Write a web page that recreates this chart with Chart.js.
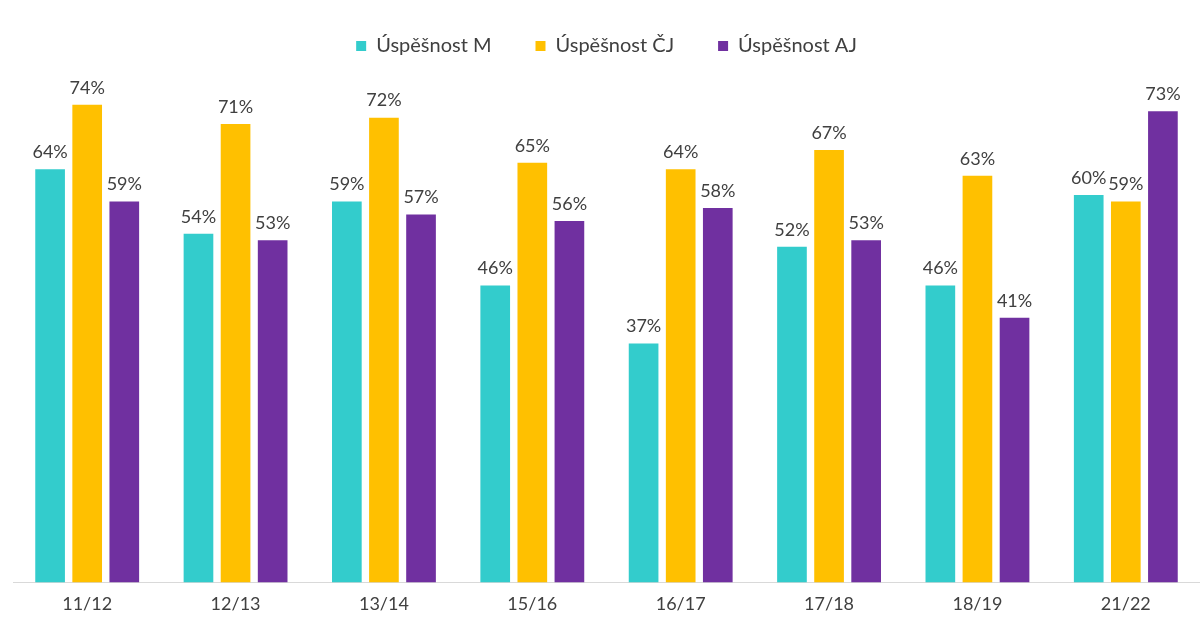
<!DOCTYPE html>
<html><head><meta charset="utf-8">
<script src="https://cdn.jsdelivr.net/npm/chart.js@4/dist/chart.umd.min.js"></script>
<style>html,body{margin:0;padding:0;background:#fff}#wrap{width:1200px;height:621px}</style>
</head><body><div id="wrap"><canvas id="c"></canvas></div>
<script>
const categories = ['11/12','12/13','13/14','15/16','16/17','17/18','18/19','21/22'];
const seriesM = [64,54,59,46,37,52,46,60];
const seriesCJ = [74,71,72,65,64,67,63,59];
const seriesAJ = [59,53,57,56,58,53,41,73];
const seriesNames = ['Úspěšnost M','Úspěšnost ČJ','Úspěšnost AJ'];
const colors = ['#33CCCC','#FFC000','#7030A0'];
const FONT = 'Lato, "Open Sans", sans-serif';

const labelPlugin = {
  id:'valueLabels',
  afterDatasetsDraw(chart){
    const ctx = chart.ctx;
    ctx.save();
    ctx.font = '18px ' + FONT;
    ctx.fillStyle = '#404040';
    ctx.textAlign = 'center';
    ctx.textBaseline = 'bottom';
    chart.data.datasets.forEach((ds,i)=>{
      const meta = chart.getDatasetMeta(i);
      meta.data.forEach((el,j)=>{
        ctx.fillText(ds.data[j]+'%', el.x, el.y - 8);
      });
    });
    ctx.restore();
  }
};

new Chart(document.getElementById('c'),{
  type:'bar',
  data:{
    labels: categories,
    datasets:[
      {label:seriesNames[0], data:seriesM, backgroundColor:colors[0]},
      {label:seriesNames[1], data:seriesCJ, backgroundColor:colors[1]},
      {label:seriesNames[2], data:seriesAJ, backgroundColor:colors[2]}
    ]
  },
  options:{
    responsive:true, maintainAspectRatio:false, animation:false,
    categoryPercentage:0.75, barPercentage:0.8,
    layout:{padding:{left:13,right:0,top:-8,bottom:3}},
    plugins:{
      legend:{position:'top', labels:{boxWidth:10, boxHeight:10, padding:44, color:'#404040', font:{size:20, family:FONT}}},
      tooltip:{enabled:false}
    },
    scales:{
      x:{grid:{display:false}, border:{color:'#d9d9d9', width:1}, ticks:{color:'#404040', font:{size:18, family:FONT}, padding:3}},
      y:{display:false, min:0, max:80}
    }
  },
  plugins:[labelPlugin]
});
</script></body></html>
